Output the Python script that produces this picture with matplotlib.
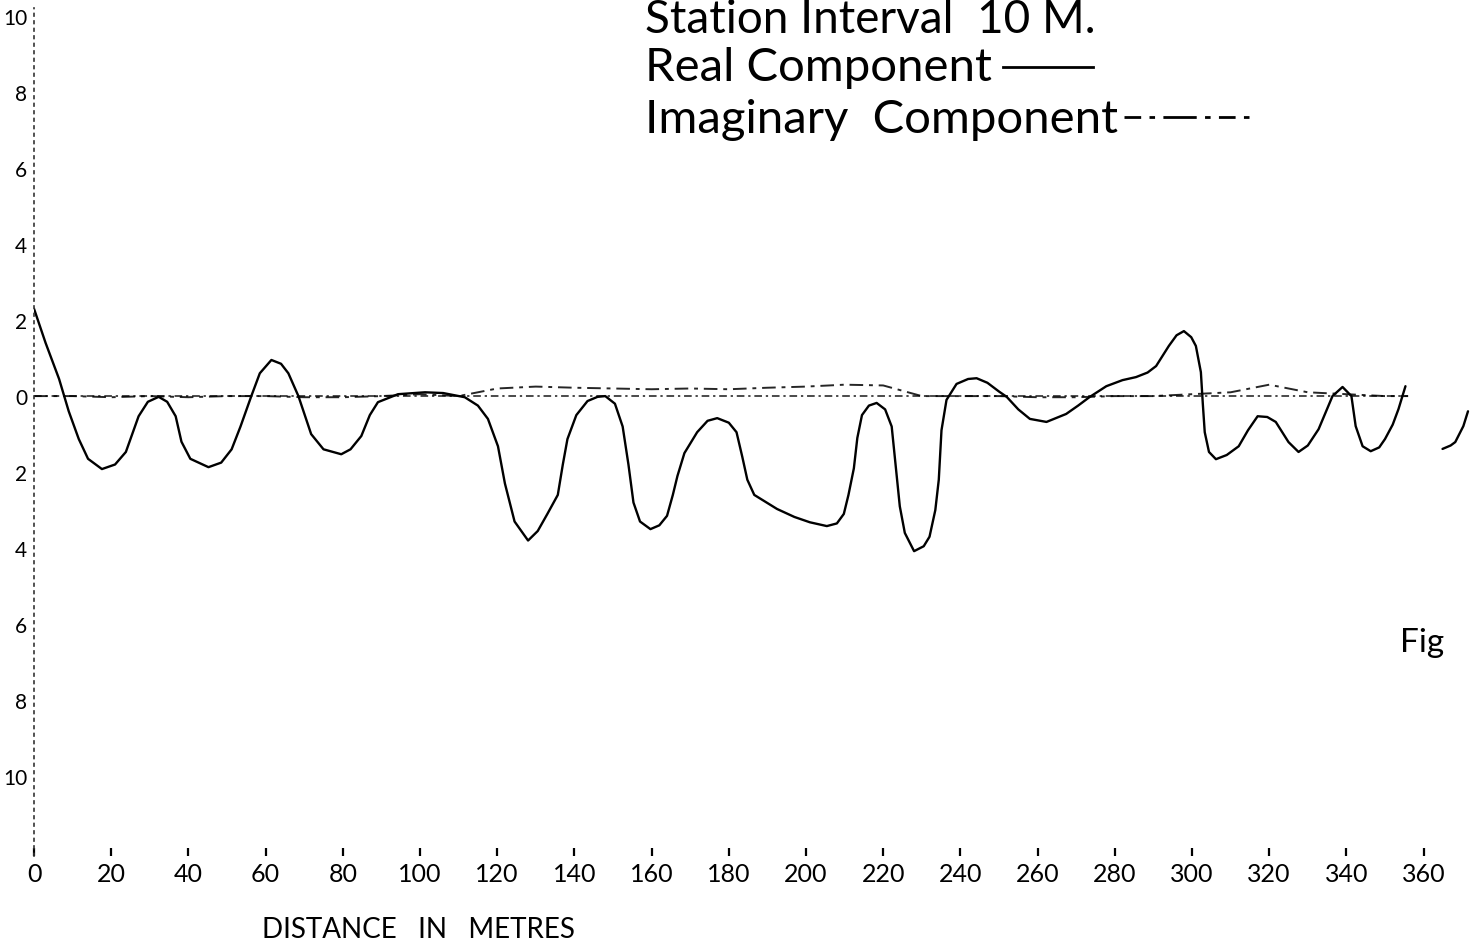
import numpy as np
import matplotlib
matplotlib.use("Agg")
import matplotlib.pyplot as plt
from matplotlib.lines import Line2D

# ---------------- data ----------------
real_x = [0, 3, 6.5, 9, 11.6, 14, 17.6, 21, 23.8, 27.1, 29.5, 32.3, 34.5, 36.7, 38.2,
          40.5, 45.2, 48.5, 51.2, 53.5, 56.3, 58.5, 61.5, 64, 65.9, 68.5, 71.8, 75,
          79.6, 82, 84.8, 87, 89.1, 94.3, 101.3, 106, 111.6, 115, 117.6, 120.2, 122,
          124.5, 128, 130.5, 133, 135.7, 137, 138.2, 140.5, 143.4, 146, 148, 150.5,
          152.5, 154, 155.3, 157, 159.7, 162, 164, 165.5, 166.7, 168.5, 171.8, 174.5,
          177, 180, 182, 183.5, 184.8, 186.6, 192.5, 197, 201, 205.4, 208, 209.8, 211,
          212.4, 213.3, 214.5, 216.3, 218.3, 220.5, 222.2, 223.2, 224.3, 225.6, 228,
          230.5, 232, 233.5, 234.4, 235.1, 236.4, 239, 242, 244.2, 247, 250, 252, 255,
          258, 262.3, 267.4, 270.5, 273.4, 277.8, 282, 285.5, 288.5, 290.7, 294, 296,
          297.9, 299.8, 301, 302.3, 302.8, 303.3, 304.4, 306.2, 309, 312.1, 314.5, 317,
          319.5, 321.7, 325, 327.6, 330, 332.8, 336.4, 339, 341.3, 342.4, 344.2, 346.3,
          348.5, 350, 352, 353.5, 355.3, np.nan, 364.9, 367, 368.2, 370.3, 371.5]
real_y = [2.3, 1.4, 0.45, -0.4, -1.13, -1.65, -1.92, -1.8, -1.47, -0.53, -0.15, -0.02,
          -0.15, -0.53, -1.2, -1.65, -1.87, -1.75, -1.4, -0.8, 0.0, 0.6, 0.95, 0.85, 0.6,
          0.0, -1.0, -1.4, -1.53, -1.4, -1.05, -0.5, -0.16, 0.05, 0.1, 0.08, -0.03, -0.25,
          -0.6, -1.32, -2.3, -3.3, -3.8, -3.55, -3.1, -2.6, -1.8, -1.13, -0.5, -0.13,
          -0.02, 0.0, -0.2, -0.8, -1.8, -2.8, -3.3, -3.5, -3.4, -3.15, -2.6, -2.1, -1.5,
          -0.95, -0.65, -0.58, -0.7, -0.95, -1.6, -2.2, -2.6, -2.97, -3.18, -3.32, -3.42,
          -3.35, -3.1, -2.6, -1.9, -1.1, -0.5, -0.25, -0.18, -0.35, -0.8, -1.8, -2.9,
          -3.6, -4.08, -3.95, -3.7, -3.0, -2.2, -0.9, -0.1, 0.32, 0.45, 0.47, 0.35, 0.12,
          -0.02, -0.35, -0.6, -0.68, -0.47, -0.25, -0.03, 0.26, 0.42, 0.5, 0.62, 0.79,
          1.32, 1.6, 1.71, 1.55, 1.32, 0.63, -0.2, -0.95, -1.47, -1.66, -1.55, -1.32,
          -0.9, -0.53, -0.55, -0.68, -1.21, -1.47, -1.3, -0.87, 0.0, 0.24, 0.0, -0.79,
          -1.32, -1.45, -1.35, -1.13, -0.75, -0.34, 0.26, np.nan, -1.39, -1.3, -1.21,
          -0.79, -0.4]

imag_x = [0, 10, 20, 30, 40, 50, 60, 70, 80, 90, 100, 110, 120, 130, 140, 150, 160, 170,
          180, 190, 200, 210, 220, 230, 240, 250, 260, 270, 280, 290, 300, 310, 320, 330,
          340, 350, 356]
imag_y = [0.0, 0.0, -0.03, 0.0, -0.03, 0.0, 0.0, -0.03, -0.03, 0.0, 0.05, 0.0, 0.2, 0.25,
          0.22, 0.2, 0.18, 0.2, 0.18, 0.22, 0.25, 0.3, 0.28, 0.0, 0.0, 0.0, -0.03, -0.03,
          0.0, 0.0, 0.05, 0.1, 0.3, 0.1, 0.05, 0.0, 0.0]

x_ticks = list(range(0, 361, 20))
x_tick_labels = [str(v) for v in x_ticks]
y_ticks = [10, 8, 6, 4, 2, 0, -2, -4, -6, -8, -10]
y_tick_labels = ["10", "8", "6", "4", "2", "0", "2", "4", "6", "8", "10"]

title_lines = ["Station Interval  10 M.", "Real Component", "Imaginary  Component"]
x_label = "DISTANCE   IN   METRES"
corner_text = "Fig"

# ---------------- figure ----------------
W_PX, H_PX = 1481, 953
fig = plt.figure(figsize=(W_PX / 100, H_PX / 100), dpi=100)
fig.patch.set_facecolor("white")
FONT = "Lato"

def fx(px):
    return px / W_PX

def fy(py):
    return 1 - py / H_PX

ax = fig.add_axes([fx(34), fy(857), fx(W_PX - 34), (857 - 9.4) / H_PX])
xmax = (W_PX - 34) / 3.86
ax.set_xlim(0, xmax)
ax.set_ylim(-12.1, 10.2)

# zero reference line
ax.axhline(0, xmin=0, xmax=356 / xmax, color="black", lw=1.1,
           dashes=(5, 2.5, 1.5, 2.5), alpha=0.9)
# imaginary component
ax.plot(imag_x, imag_y, color="black", lw=1.4, dashes=(7, 3, 2, 3), alpha=0.85)
# real component
ax.plot(real_x, real_y, color="black", lw=1.7, solid_capstyle="round")

for s in ["top", "right", "bottom"]:
    ax.spines[s].set_visible(False)
ax.spines["left"].set_linestyle((0, (1.5, 3)))
ax.spines["left"].set_linewidth(1.2)
ax.spines["left"].set_color("#333333")

ax.set_xticks(x_ticks)
ax.set_xticklabels(x_tick_labels, fontfamily=FONT, fontsize=18)
ax.tick_params(axis="x", direction="in", length=6, width=1.6, pad=4, colors="black")
ax.set_yticks(y_ticks)
ax.set_yticklabels(y_tick_labels, fontfamily=FONT, fontsize=15)
ax.tick_params(axis="y", length=0, pad=5)

# legend-like text block
fig.text(fx(645), fy(33), title_lines[0], fontfamily=FONT, fontsize=33, va="baseline")
fig.text(fx(645), fy(81), title_lines[1], fontfamily=FONT, fontsize=34, va="baseline")
fig.text(fx(645), fy(133), title_lines[2], fontfamily=FONT, fontsize=34, va="baseline")
fig.add_artist(Line2D([fx(1003), fx(1093)], [fy(68), fy(68)], color="black", lw=2,
                      transform=fig.transFigure))
fig.add_artist(Line2D([fx(1124), fx(1250)], [fy(118), fy(118)], color="black", lw=2,
                      dashes=(6, 3, 2, 3, 12, 3, 2, 3), transform=fig.transFigure))

fig.text(fx(262), fy(938), x_label, fontfamily=FONT, fontsize=20, va="baseline")
fig.text(fx(1400), fy(652), corner_text, fontfamily=FONT, fontsize=24, va="baseline")

fig.savefig("out.png", dpi=100, facecolor="white")
